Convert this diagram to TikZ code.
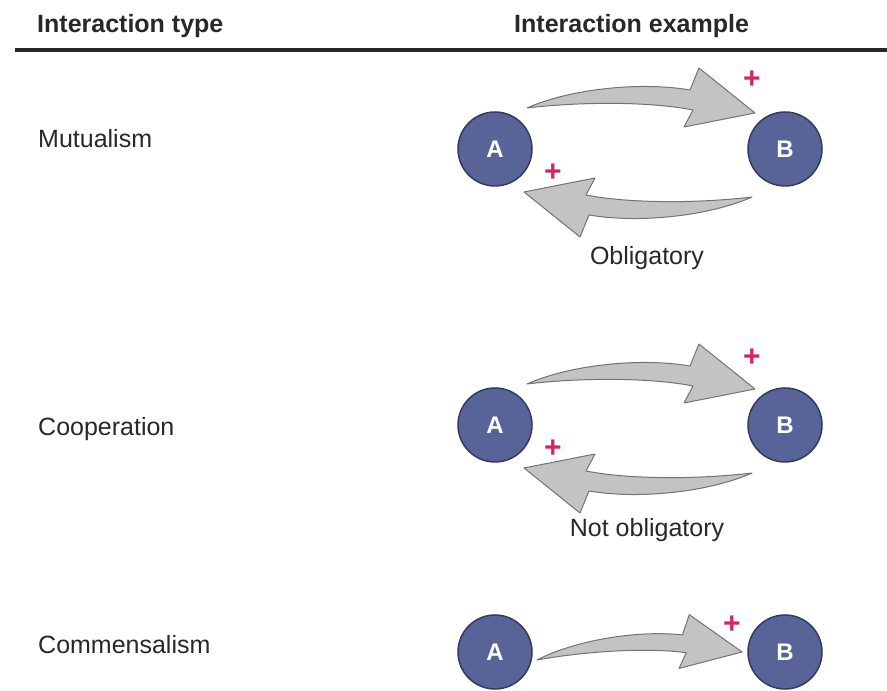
\documentclass[tikz,border=0pt]{standalone}
\usepackage{fontspec}
\setmainfont{Liberation Sans}
\usetikzlibrary{calc}
\definecolor{orgfill}{RGB}{88,100,152}
\definecolor{orgline}{RGB}{52,58,96}
\definecolor{arrfill}{RGB}{195,195,198}
\definecolor{arrline}{RGB}{115,115,118}
\definecolor{plusred}{RGB}{214,36,96}
\definecolor{textgray}{RGB}{40,40,40}
\tikzset{
  organism/.style = {circle, draw = orgline, line width = 1.5pt, fill = orgfill,
    minimum size = 74pt, inner sep = 0, text = white,
    font = \fontsize{24}{24}\selectfont\bfseries},
  label/.style = {anchor = base west, inner sep = 0, text = textgray,
    font = \fontsize{25}{30}\selectfont},
  header/.style = {label, font = \fontsize{25}{30}\selectfont\bfseries},
  plus/.style = {inner sep = 0, text = plusred, font = \fontsize{30}{30}\selectfont\bfseries},
  bigarrow/.pic = {\filldraw[fill = arrfill, draw = arrline, line width = 1pt, line join = round]
    (0,0) .. controls (40,18) and (110,27) .. (163,18) -- (172,40) -- (228,-5)
    -- (157,-19) -- (166,-2) .. controls (120,7) and (50,6) .. (0,0) -- cycle;}
}
\begin{document}
\begin{tikzpicture}[x = 1pt, y = 1pt]
\clip (0,0) rectangle (887,691);
\fill[white] (0,0) rectangle (887,691);
% header
\node[header](H1)at(37,658){Interaction type};
\node[header](H2)at(514,658){Interaction example};
\draw[line width = 4pt, textgray](15,641)--(887,641);
% mutualism
\node[label](T1)at(38,543){Mutualism};
\node[organism](A1)at(495,542){A};
\node[organism](B1)at(785,542){B};
\pic at ($(A1)+(32,41)$) {bigarrow};
\pic[rotate = 180] at ($(A1)+(257,-48)$) {bigarrow};
\node[plus](P1)at($(A1)+(257,69)$){+};
\node[plus](P2)at($(A1)+(58,-24)$){+};
\node[label, anchor = base](O1)at($(A1)+(152,-116)$){Obligatory};
% cooperation
\node[label](T2)at(38,255){Cooperation};
\node[organism](A2)at(495,266){A};
\node[organism](B2)at(785,266){B};
\pic at ($(A2)+(32,41)$) {bigarrow};
\pic[rotate = 180] at ($(A2)+(257,-48)$) {bigarrow};
\node[plus](P3)at($(A2)+(257,67)$){+};
\node[plus](P4)at($(A2)+(58,-24)$){+};
\node[label, anchor = base](O2)at($(A2)+(152,-112)$){Not obligatory};
% commensalism
\node[label](T3)at(38,37){Commensalism};
\node[organism](A3)at(495,39){A};
\node[organism](B3)at(785,39){B};
\pic[rotate = 3.5, scale = 0.9] at ($(A3)+(42,-8)$) {bigarrow};
\node[plus](P5)at($(A3)+(237,27)$){+};
\end{tikzpicture}
\end{document}
